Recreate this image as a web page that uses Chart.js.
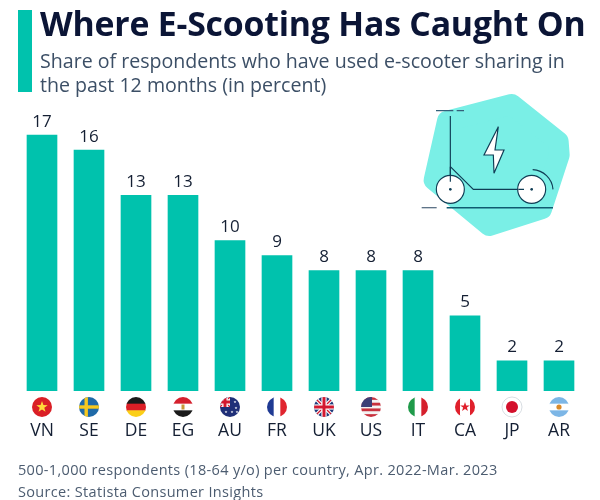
<!DOCTYPE html>
<html>
<head>
<meta charset="utf-8">
<script src="https://cdn.jsdelivr.net/npm/chart.js@4"></script>
<style>
  html, body { margin: 0; padding: 0; background: #fff; }
  #wrap { position: relative; width: 600px; height: 500px; overflow: hidden; font-family: "Open Sans", sans-serif; }
  #wrap canvas { position: absolute; left: 0; top: 0; }
  .txt { position: absolute; white-space: nowrap; }
  #accent { position: absolute; left: 18px; top: 10px; width: 14px; height: 82px; background: #00c2ad; }
  #title { left: 40px; top: 0px; font-size: 33.8px; line-height: 46px; font-weight: 700; color: #0b1536; letter-spacing: -0.2px; }
  #sub { left: 40px; top: 49px; font-size: 19.6px; line-height: 24px; color: #3c4f66; }
  #foot { left: 18px; top: 459px; font-size: 14.5px; line-height: 22px; color: #4c5c70; letter-spacing: 0.33px; }
  #icon { position: absolute; left: 400px; top: 85px; width: 180px; height: 160px; }
</style>
</head>
<body>
<div id="wrap">
  <canvas id="chart" width="600" height="500"></canvas>
  <div id="accent"></div>
  <div class="txt" id="title">Where E-Scooting Has Caught On</div>
  <div class="txt" id="sub">Share of respondents who have used e-scooter sharing in<br>the past 12 months (in percent)</div>
  <div class="txt" id="foot">500-1,000 respondents (18-64 y/o) per country, Apr. 2022-Mar. 2023<br>Source: Statista Consumer Insights</div>
  <svg id="icon" viewBox="0 0 540 480">
    <polygon points="335,58 475,170 478,210 425,372 268,422 102,285 142,108" fill="#7aefe6" stroke="#7aefe6" stroke-width="62" stroke-linejoin="round"/>
    <g fill="none" stroke="#0f3d55" stroke-width="3.5">
      <path d="M108 77H160M170 77H192" stroke="#35607a" stroke-width="4"/>
      <path d="M151 93V285M151 245L220 313H368"/>
      <circle cx="151" cy="313" r="42" fill="#fff"/>
      <circle cx="395" cy="313" r="42" fill="#fff"/>
      <path d="M151 245V290M355 313H372"/>
      <path d="M398 254A64 64 0 0 1 459 313"/>
      <path d="M65 368H110" stroke="#5f7488" stroke-width="4"/>
      <path d="M140 368H459" stroke="#0f5a70" stroke-width="4.5"/>
      <path d="M295 125L252 210H280L282 265L312 195H285Z" fill="#fff"/>
    </g>
    <circle cx="151" cy="313" r="4" fill="#0f3d55"/>
    <circle cx="395" cy="313" r="4" fill="#0f3d55"/>
  </svg>
</div>
<script>
const categories = ['VN', 'SE', 'DE', 'EG', 'AU', 'FR', 'UK', 'US', 'IT', 'CA', 'JP', 'AR'];
const shares = [17, 16, 13, 13, 10, 9, 8, 8, 8, 5, 2, 2];
const yTicks = [0, 20];

// flags are small circles, painted by hand per country
function stripesH(ctx, x, y, r, cols) {
    const h = 2 * r / cols.length;
    cols.forEach((c, i) => { ctx.fillStyle = c; ctx.fillRect(x - r, y - r + i * h, 2 * r, h + 0.5); });
}
function stripesV(ctx, x, y, r, cols) {
    const w = 2 * r / cols.length;
    cols.forEach((c, i) => { ctx.fillStyle = c; ctx.fillRect(x - r + i * w, y - r, w + 0.5, 2 * r); });
}
function star(ctx, x, y, r, col) {
    ctx.fillStyle = col;
    ctx.beginPath();
    for (let i = 0; i < 10; i++) {
        const a = -Math.PI / 2 + i * Math.PI / 5, q = i % 2 ? r * 0.4 : r;
        ctx.lineTo(x + q * Math.cos(a), y + q * Math.sin(a));
    }
    ctx.closePath();
    ctx.fill();
}
function ukCross(ctx, x, y, r) {
    ctx.fillStyle = '#1f3a7a';
    ctx.fillRect(x - r, y - r, 2 * r, 2 * r);
    ctx.lineWidth = 3.5; ctx.strokeStyle = '#fff';
    ctx.beginPath(); ctx.moveTo(x - r, y - r); ctx.lineTo(x + r, y + r); ctx.moveTo(x + r, y - r); ctx.lineTo(x - r, y + r); ctx.stroke();
    ctx.lineWidth = 1.3; ctx.strokeStyle = '#d3182f';
    ctx.stroke();
    ctx.fillStyle = '#fff';
    ctx.fillRect(x - r, y - 2.6, 2 * r, 5.2); ctx.fillRect(x - 2.6, y - r, 5.2, 2 * r);
    ctx.fillStyle = '#d3182f';
    ctx.fillRect(x - r, y - 1.5, 2 * r, 3); ctx.fillRect(x - 1.5, y - r, 3, 2 * r);
}
const flagPainters = {
    VN(ctx, x, y, r) { ctx.fillStyle = '#da1f26'; ctx.fillRect(x - r, y - r, 2 * r, 2 * r); star(ctx, x, y, 6, '#ffd83a'); },
    SE(ctx, x, y, r) {
        ctx.fillStyle = '#1f6aa8'; ctx.fillRect(x - r, y - r, 2 * r, 2 * r);
        ctx.fillStyle = '#f7c81e'; ctx.fillRect(x - r, y - 1.7, 2 * r, 3.4); ctx.fillRect(x - 4.5, y - r, 3.4, 2 * r);
    },
    DE(ctx, x, y, r) { stripesH(ctx, x, y, r, ['#1a1a1a', '#dc1f26', '#fbcf18']); },
    EG(ctx, x, y, r) {
        stripesH(ctx, x, y, r, ['#d5202d', '#fff', '#1a1a1a']);
        ctx.fillStyle = '#c79a3a'; ctx.fillRect(x - 1.5, y - 2.5, 3, 5);
    },
    AU(ctx, x, y, r) {
        ctx.fillStyle = '#1f2f78'; ctx.fillRect(x - r, y - r, 2 * r, 2 * r);
        ctx.save(); ctx.beginPath(); ctx.rect(x - r, y - r, r, r); ctx.clip();
        ukCross(ctx, x - r / 2, y - r / 2, r / 2 + 1);
        ctx.restore();
        [[5, -5], [6, 1], [2, 5], [-4, 5], [7, 5]].forEach(p => star(ctx, x + p[0], y + p[1], 1.5, '#fff'));
    },
    FR(ctx, x, y, r) { stripesV(ctx, x, y, r, ['#1f3a93', '#fff', '#e0252f']); },
    UK(ctx, x, y, r) { ukCross(ctx, x, y, r); },
    US(ctx, x, y, r) {
        stripesH(ctx, x, y, r, ['#c8313e', '#f3f3f3', '#c8313e', '#f3f3f3', '#c8313e', '#f3f3f3', '#c8313e']);
        ctx.fillStyle = '#3c3f77'; ctx.fillRect(x - r, y - r, r + 1, r);
    },
    IT(ctx, x, y, r) { stripesV(ctx, x, y, r, ['#1f9a4a', '#fff', '#d5202d']); },
    CA(ctx, x, y, r) {
        stripesV(ctx, x, y, r, ['#e0202c', '#fff', '#fff', '#e0202c']);
        star(ctx, x, y, 5, '#e0202c');
    },
    JP(ctx, x, y, r) {
        ctx.fillStyle = '#fff'; ctx.fillRect(x - r, y - r, 2 * r, 2 * r);
        ctx.fillStyle = '#d3102c'; ctx.beginPath(); ctx.arc(x, y, 6, 0, 2 * Math.PI); ctx.fill();
    },
    AR(ctx, x, y, r) {
        stripesH(ctx, x, y, r, ['#7cb6e6', '#fff', '#7cb6e6']);
        ctx.fillStyle = '#d98a2a'; ctx.beginPath(); ctx.arc(x, y, 2.6, 0, 2 * Math.PI); ctx.fill();
    }
};

const flagsAndValues = {
    id: 'flagsAndValues',
    afterDatasetsDraw(chart) {
        const ctx = chart.ctx;
        const bars = chart.getDatasetMeta(0).data;
        const xScale = chart.scales.x;
        ctx.save();
        ctx.font = '17px "Open Sans", sans-serif';
        ctx.fillStyle = '#141f33';
        ctx.textAlign = 'center';
        ctx.textBaseline = 'alphabetic';
        bars.forEach((bar, i) => ctx.fillText(String(shares[i]), bar.x, bar.y - 8.5));
        categories.forEach((code, i) => {
            const x = xScale.getPixelForValue(i), y = 407, r = 10;
            ctx.save();
            ctx.beginPath();
            ctx.arc(x, y, r, 0, 2 * Math.PI);
            ctx.clip();
            flagPainters[code](ctx, x, y, r);
            ctx.restore();
            if (code === 'JP') {
                ctx.strokeStyle = '#d8dde2';
                ctx.lineWidth = 1;
                ctx.beginPath();
                ctx.arc(x, y, r, 0, 2 * Math.PI);
                ctx.stroke();
            }
        });
        ctx.restore();
    }
};

new Chart(document.getElementById('chart'), {
    type: 'bar',
    data: {
        labels: categories,
        datasets: [{ data: shares, backgroundColor: '#00c2ad', barThickness: 30, borderWidth: 0 }]
    },
    options: {
        responsive: false,
        animation: false,
        layout: { padding: { left: 18.5, right: 17.5, top: 90, bottom: 57 } },
        plugins: { legend: { display: false }, tooltip: { enabled: false } },
        scales: {
            x: {
                grid: { display: false },
                border: { display: false },
                afterFit(scale) { scale.height = 52; },
                ticks: {
                    padding: 22,
                    maxRotation: 0,
                    autoSkip: false,
                    color: '#141f33',
                    font: { family: '"Open Sans", sans-serif', size: 17.5 }
                }
            },
            y: {
                display: false,
                min: yTicks[0],
                max: yTicks[1]
            }
        }
    },
    plugins: [flagsAndValues]
});
</script>
</body>
</html>
